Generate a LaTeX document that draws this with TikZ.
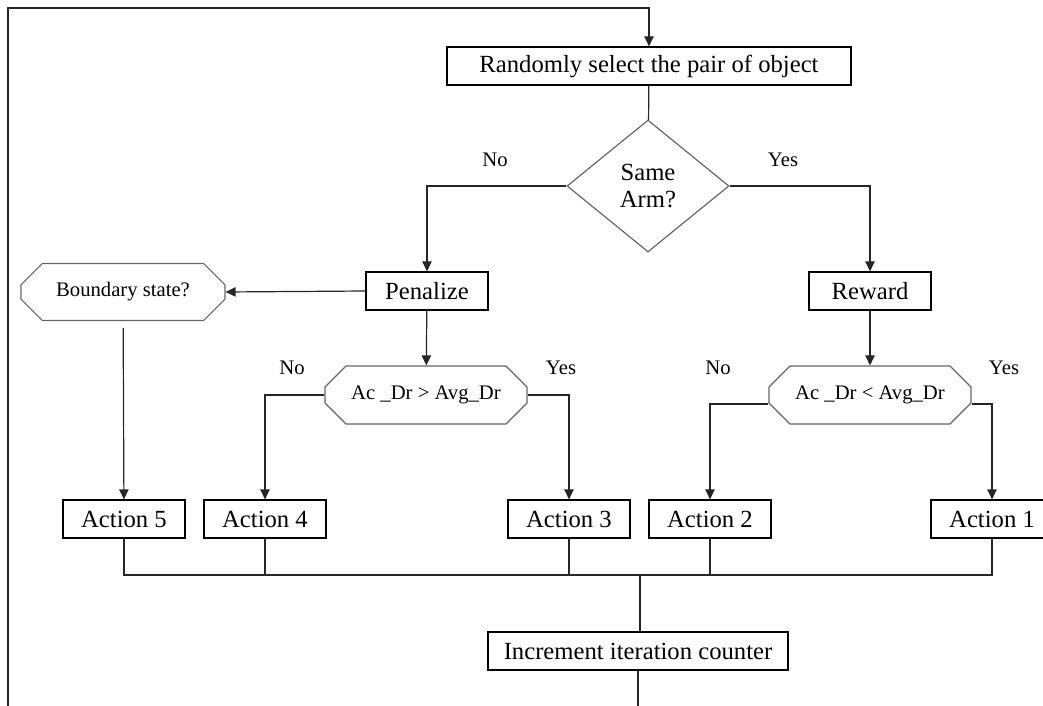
\documentclass[tikz,border=0pt]{standalone}
\usepackage{fontspec}
\setmainfont{Liberation Serif}
\usetikzlibrary{shapes.geometric,shapes.misc,arrows.meta,calc}

\tikzset{
  flowline/.style={draw=black!85, line width=0.9pt},
  flowarrow/.style={flowline, -{Triangle[length=7.5pt,width=7pt]}},
  stepbox/.style={draw=black, line width=0.9pt, rectangle, inner sep=0pt,
    minimum width=91.5pt, minimum height=28.5pt,
    font=\fontsize{18.5}{20}\selectfont},
  testbox/.style={draw=black!60, line width=0.9pt, chamfered rectangle,
    chamfered rectangle xsep=9pt, chamfered rectangle ysep=9pt, inner sep=0pt,
    minimum width=151.5pt, minimum height=43.5pt,
    font=\fontsize{15.5}{17}\selectfont},
  choice/.style={draw=black!60, line width=0.9pt, diamond, inner sep=0pt,
    minimum width=121.5pt, minimum height=99pt, align=center,
    font=\fontsize{18.5}{20}\selectfont},
  answer/.style={inner sep=0pt, font=\fontsize{15.5}{17}\selectfont}
}

\begin{document}
\begin{tikzpicture}[x=0.75pt,y=0.75pt,yscale=-1,xscale=1]
\useasboundingbox (0,0) rectangle (1043,706);

% Nodes
\node[stepbox, minimum width=303pt] (select) at (649,66) {Randomly select the pair of object};
\node[choice] (arm) at (648,186) {Same\\Arm?};
\node[stepbox] (penalize) at (427,291) {Penalize};
\node[stepbox] (reward) at (870,291) {Reward};
\node[testbox, minimum width=153pt, minimum height=42.75pt] (boundary) at (123,292) {Boundary state?};
\node[testbox] (cmpleft) at (426,395) {Ac \_Dr > Avg\_Dr};
\node[testbox] (cmpright) at (870,395) {Ac \_Dr < Avg\_Dr};
\node[stepbox] (act5) at (124,519) {Action 5};
\node[stepbox] (act4) at (265,519) {Action 4};
\node[stepbox] (act3) at (569,519) {Action 3};
\node[stepbox] (act2) at (710,519) {Action 2};
\node[stepbox] (act1) at (992,519) {Action 1};
\node[stepbox, minimum width=225pt] (counter) at (638,651) {Increment iteration counter};

% Text Node
\node[answer] (armno) at (495,160) {No};
\node[answer] (armyes) at (783,160) {Yes};
\node[answer] (leftno) at (292,368) {No};
\node[answer] (leftyes) at (561,368) {Yes};
\node[answer] (rightno) at (718,368) {No};
\node[answer] (rightyes) at (1004,368) {Yes};

% loop back
\coordinate (loopbottom) at (8,730);
\coordinate (looptop) at (8,8);
\coordinate (bus) at (640,575);
\draw[flowarrow] (counter.south) |- (loopbottom) -- (looptop) -| (select.north);

% Connectors
\draw[flowline] (select) -- (arm);
\draw[flowarrow] (arm.west) -| (penalize.north);
\draw[flowarrow] (arm.east) -| (reward.north);
\draw[flowarrow] (penalize.west) -- (boundary.east);
\draw[flowarrow, shorten <=5pt] (boundary) -- (act5);
\draw[flowarrow] (penalize) -- (cmpleft);
\draw[flowarrow] (reward) -- (cmpright);
\draw[flowarrow] (cmpleft.west) -| (act4.north);
\draw[flowarrow] (cmpleft.east) -| (act3.north);
\draw[flowarrow] ($(cmpright.west)+(0,9)$) -| (act2.north);
\draw[flowarrow] ($(cmpright.east)+(0,9)$) -| (act1.north);

% Actions to counter
\draw[flowline] (act5.south) |- (bus) -| (act1.south);
\foreach \a in {act4,act3,act2}
  \draw[flowline] (\a.south) -- (\a.south |- bus);
\draw[flowline] (bus) -- (bus |- counter.north);
\end{tikzpicture}
\end{document}
